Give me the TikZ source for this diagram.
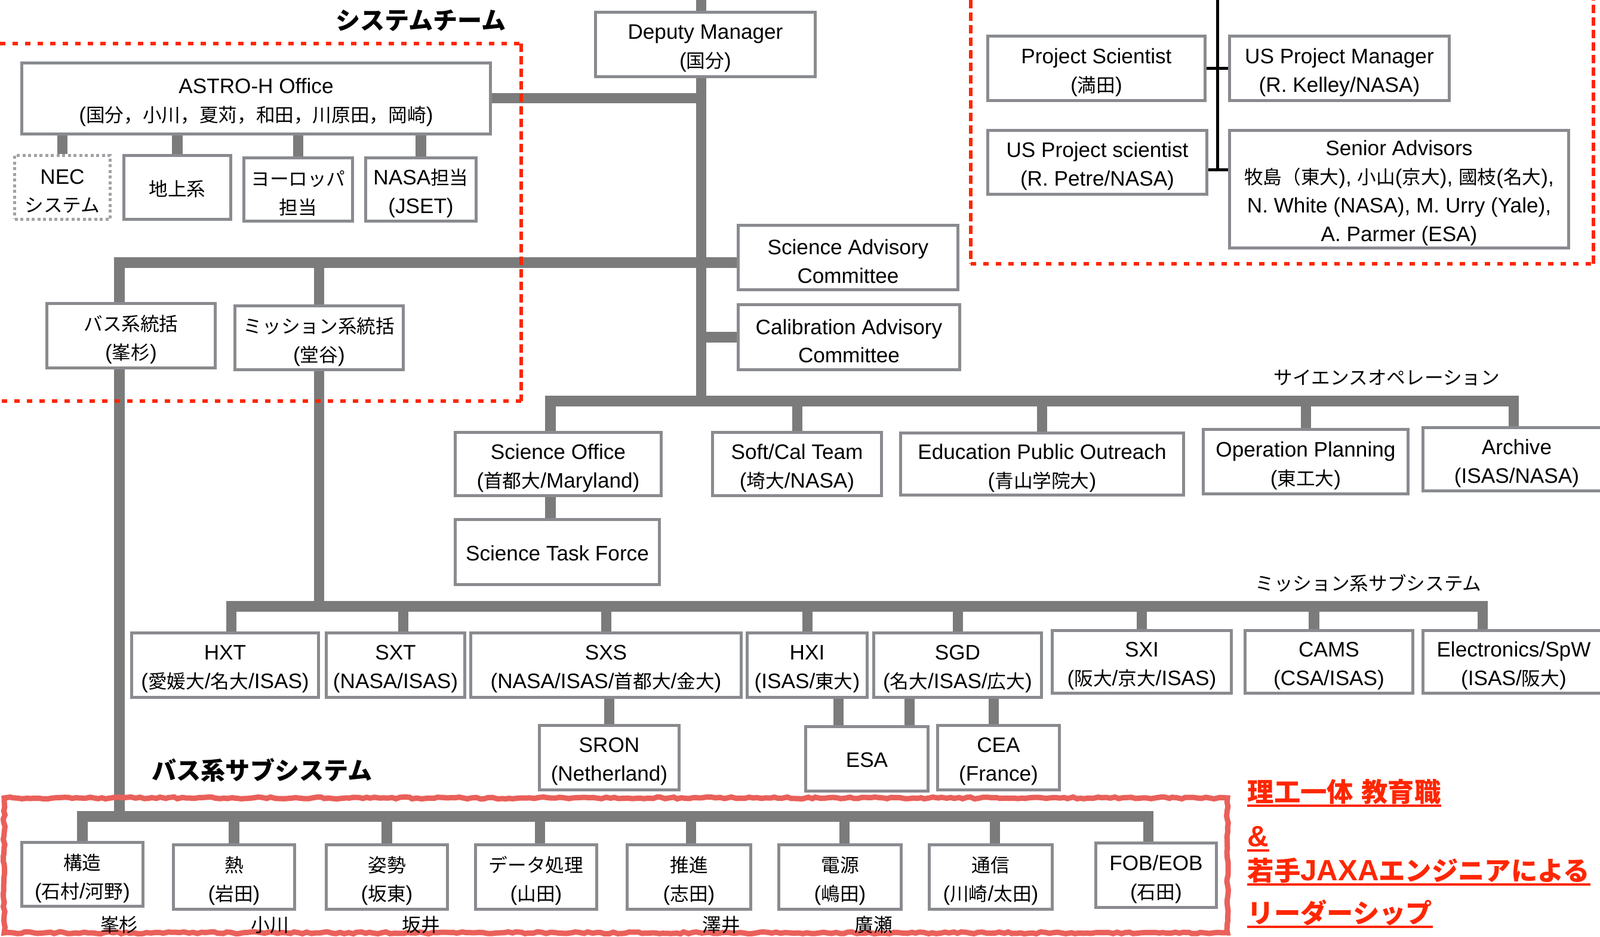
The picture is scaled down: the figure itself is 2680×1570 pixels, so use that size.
\documentclass[tikz,border=0pt]{standalone}
\usepackage{fontspec}
\setmainfont{Liberation Sans}
\newfontfamily\cjkfam{Noto Sans CJK JP}[Scale=0.9]
\usetikzlibrary{backgrounds,decorations.pathmorphing}
\newcount\cjkcnt
\newXeTeXintercharclass\cjkcls
\cjkcnt="3000
\loop\ifnum\cjkcnt<"A000 \XeTeXcharclass\cjkcnt=\cjkcls\relax \advance\cjkcnt by 1 \repeat
\cjkcnt="FF00
\loop\ifnum\cjkcnt<"FFF0 \XeTeXcharclass\cjkcnt=\cjkcls\relax \advance\cjkcnt by 1 \repeat
\XeTeXinterchartoks 0 \cjkcls = {\cjkfam}
\XeTeXinterchartoks 4095 \cjkcls = {\cjkfam}
\XeTeXinterchartoks \cjkcls 0 = {\rmfamily}
\XeTeXinterchartoks \cjkcls 4095 = {\rmfamily}
\XeTeXinterchartokenstate=1

\definecolor{boxgray}{RGB}{137,139,143}
\definecolor{conngray}{RGB}{123,123,123}
\definecolor{redd}{RGB}{255,38,0}
\definecolor{roughred}{RGB}{234,96,90}
\tikzset{
 box/.style={draw=boxgray, line width=0.05cm, fill=white, inner sep=0pt},
 btxt/.style={align=center, inner sep=0pt, font=\fontsize{10pt}{13.6pt}\selectfont, text=black},
 necbox/.style={draw=boxgray!80, dash pattern=on 0.05cm off 0.045cm},
 conn/.style={draw=conngray, line width=0.17cm},
 blk/.style={draw=black, line width=0.05cm},
 reddot/.style={draw=redd, line width=0.055cm, dash pattern=on 0.09cm off 0.12cm},
 reddash/.style={draw=redd, line width=0.055cm, dash pattern=on 0.14cm off 0.07cm},
 roughbox/.style={draw=roughred, line width=0.09cm, decorate, decoration={random steps, segment length=2pt, amplitude=0.45pt}},
 ttl/.style={font=\fontsize{13pt}{15pt}\selectfont\bfseries, inner sep=0pt},
 lbl/.style={font=\fontsize{10pt}{13.6pt}\selectfont, inner sep=0pt},
 redt/.style={font=\fontsize{14pt}{16pt}\selectfont\bfseries, text=redd, inner sep=0pt, anchor=base west},
 redline/.style={draw=redd, line width=0.045cm},
}
\newcommand\bxg[8]{\node[box,#1,minimum width={(#5-#3)*0.01cm-0.05cm},minimum height={(#6-#4)*0.01cm-0.05cm}] (#2) at ({(#3+#5)/2},{(#4+#6)/2}) {};
\node[btxt] (#2-t) at ([yshift=#8]#2.center) {#7};}
\newcommand\bx[7][]{\bxg{#1}{#2}{#3}{#4}{#5}{#6}{#7}{-0.065cm}}
\newcommand\bxs[7][]{\bxg{#1}{#2}{#3}{#4}{#5}{#6}{#7}{-0.02cm}}

\begin{document}
\begin{tikzpicture}[x=0.01cm,y=-0.01cm]
\useasboundingbox (0,0) rectangle (2680,1570);
\clip (0,0) rectangle (2680,1570);

% titles and labels
\node[ttl] (t1) at (705,34) {システムチーム};
\node[ttl] (t2) at (439,1290) {バス系サブシステム};
\node[lbl] (t3) at (2323,633) {サイエンスオペレーション};
\node[lbl] (t4) at (2292,977) {ミッション系サブシステム};

% system team
\bx{dep}{995}{18}{1368}{131}{Deputy Manager\\(国分)}
\bx{astro}{34}{103}{824}{227}{ASTRO-H Office\\(国分，小川，夏苅，和田，川原田，岡崎)}
\bx[necbox]{nec}{22}{258}{187}{370}{NEC\\システム}
\bxs{chijo}{205}{258}{389}{370}{地上系}
\bx{euro}{406}{262}{593}{373}{ヨーロッパ\\担当}
\bx{nasa}{610}{262}{800}{373}{NASA担当\\(JSET)}
\bx{sac}{1234}{375}{1607}{488}{Science Advisory\\Committee}
\bx{cac}{1234}{508}{1610}{622}{Calibration Advisory\\Committee}
\bx{bus}{76}{506}{363}{619}{バス系統括\\(峯杉)}
\bx{mis}{391}{510}{678}{622}{ミッション系統括\\(堂谷)}

% right top
\bx{ps}{1652}{58}{2021}{171}{Project Scientist\\(満田)}
\bx{uspm}{2057}{58}{2430}{171}{US Project Manager\\(R. Kelley/NASA)}
\bx{usps}{1652}{216}{2024}{328}{US Project scientist\\(R. Petre/NASA)}
\bx{sa}{2057}{216}{2630}{418}{Senior Advisors\\牧島（東大), 小山(京大), 國枝(名大),\\N. White (NASA), M. Urry (Yale),\\A. Parmer (ESA)}

% science operation
\bx{so}{760}{722}{1110}{833}{Science Office\\(首都大/Maryland)}
\bxs{stf}{760}{868}{1107}{982}{Science Task Force}
\bx{sct}{1191}{722}{1479}{833}{Soft/Cal Team\\(埼大/NASA)}
\bx{epo}{1506}{723}{1985}{832}{Education Public Outreach\\(青山学院大)}
\bx{op}{2013}{717}{2361}{830}{Operation Planning\\(東工大)}
\bx{arc}{2381}{714}{2700}{825}{Archive\\(ISAS/NASA)}

% mission subsystems
\bx{hxt}{218}{1058}{536}{1171}{HXT\\(愛媛大/名大/ISAS)}
\bx{sxt}{544}{1058}{781}{1171}{SXT\\(NASA/ISAS)}
\bx{sxs}{786}{1058}{1244}{1171}{SXS\\(NASA/ISAS/首都大/金大)}
\bx{hxi}{1249}{1058}{1455}{1171}{HXI\\(ISAS/東大)}
\bx{sgd}{1461}{1058}{1747}{1171}{SGD\\(名大/ISAS/広大)}
\bx{sxi}{1760}{1054}{2065}{1164}{SXI\\(阪大/京大/ISAS)}
\bx{cams}{2083}{1054}{2369}{1164}{CAMS\\(CSA/ISAS)}
\bx{elec}{2381}{1054}{2690}{1164}{Electronics/SpW\\(ISAS/阪大)}
\bx{sron}{901}{1213}{1140}{1326}{SRON\\(Netherland)}
\bxs{esa}{1347}{1215}{1557}{1328}{ESA}
\bx{cea}{1568}{1213}{1777}{1326}{CEA\\(France)}

% bus subsystems
\draw[roughbox] (7,1337) rectangle (2056,1563);
\bx{kozo}{34}{1409}{242}{1521}{構造\\(石村/河野)}
\bx{netsu}{288}{1413}{496}{1526}{熱\\(岩田)}
\bx{shisei}{544}{1413}{752}{1526}{姿勢\\(坂東)}
\bx{data}{794}{1413}{1002}{1526}{データ処理\\(山田)}
\bx{suishin}{1048}{1413}{1260}{1526}{推進\\(志田)}
\bx{dengen}{1302}{1413}{1512}{1526}{電源\\(嶋田)}
\bx{tsushin}{1554}{1413}{1765}{1526}{通信\\(川崎/太田)}
\bx{fob}{1833}{1410}{2040}{1523}{FOB/EOB\\(石田)}
\node[lbl] (n1) at (200,1550) {峯杉};
\node[lbl] (n2) at (452,1550) {小川};
\node[lbl] (n3) at (705,1550) {坂井};
\node[lbl] (n4) at (1208,1550) {澤井};
\node[lbl] (n5) at (1463,1550) {廣瀬};

% red remarks
\node[redt] (r1) at (2089,1343) {理工一体 教育職};
\node[redt] (r2) at (2089,1418) {\&};
\node[redt] (r3) at (2089,1475) {若手JAXAエンジニアによる};
\node[redt] (r4) at (2089,1546) {リーダーシップ};
\foreach \r in {r1,r2,r3,r4}
  \draw[redline] ([yshift=-0.07cm]\r.base west) -- ([yshift=-0.07cm]\r.base east);

% coordinates for bars
\coordinate (top) at (1174,0);
\coordinate (opsbar) at (1174,672);
\coordinate (busx) at (200,440);
\coordinate (busbar) at (200,1368);
\coordinate (mbar) at (536,1016);
\coordinate (btop) at (2039,0);
\coordinate (bbot) at (2039,285);

\begin{scope}[on background layer]
 % trunk
 \draw[conn] (top) -- (opsbar);
 \draw[conn] (astro.east) -- (astro.east -| top);
 \foreach \n in {nec,chijo,euro,nasa}
   \draw[conn] (astro.south -| \n.north) -- (\n.north);
 % advisory
 \draw[conn] (sac.west |- busx) -- (busx) -- (busx |- bus.north);
 \draw[conn] (mis.north |- busx) -- (mis.north);
 \draw[conn] (cac.west) -- (cac.west -| top);
 % science operation
 \draw[conn] ([xshift=-0.13cm]so.north) -- ([xshift=-0.13cm]so.north |- opsbar) -- ([xshift=-0.05cm]arc.north |- opsbar) -- ([xshift=-0.05cm]arc.north);
 \foreach \n in {sct,epo,op}
   \draw[conn] (\n.north |- opsbar) -- (\n.north);
 \draw[conn] ([xshift=-0.13cm]so.south) -- ([xshift=-0.13cm]so.south |- stf.north);
 % mission
 \draw[conn] (mis.south) -- (mis.south |- mbar);
 \draw[conn] ([xshift=0.10cm]hxt.north) -- ([xshift=0.10cm]hxt.north |- mbar) -- ([xshift=-0.515cm]elec.north |- mbar) -- ([xshift=-0.515cm]elec.north);
 \draw[conn] ([xshift=0.125cm]sxt.north |- mbar) -- ([xshift=0.125cm]sxt.north);
 \draw[conn] ([xshift=-0.25cm]cams.north |- mbar) -- ([xshift=-0.25cm]cams.north);
 \foreach \n in {sxs,hxi,sgd,sxi}
   \draw[conn] (\n.north |- mbar) -- (\n.north);
 \draw[conn] (sxs.south -| sron.north) -- (sron.north);
 \draw[conn] ([xshift=-0.47cm]esa.north) -- ([xshift=-0.47cm]esa.north |- hxi.south);
 \draw[conn] ([xshift=0.71cm]esa.north) -- ([xshift=0.71cm]esa.north |- sgd.south);
 \draw[conn] ([xshift=-0.08cm]cea.north) -- ([xshift=-0.08cm]cea.north |- sgd.south);
 % bus
 \draw[conn] (busx |- bus.south) -- (busbar);
 \draw[conn] (kozo.north) -- (kozo.north |- busbar) -- ([xshift=-0.13cm]fob.north |- busbar) -- ([xshift=-0.13cm]fob.north);
 \draw[conn] (netsu.north |- busbar) -- (netsu.north);
 \draw[conn] (shisei.north |- busbar) -- (shisei.north);
 \draw[conn] ([xshift=0.06cm]data.north |- busbar) -- ([xshift=0.06cm]data.north);
 \draw[conn] ([xshift=0.03cm]suishin.north |- busbar) -- ([xshift=0.03cm]suishin.north);
 \draw[conn] ([xshift=0.07cm]dengen.north |- busbar) -- ([xshift=0.07cm]dengen.north);
 \draw[conn] ([xshift=0.07cm]tsushin.north |- busbar) -- ([xshift=0.07cm]tsushin.north);
 % black connector on the right
 \draw[blk] (btop) -- (bbot);
 \draw[blk] (ps.east) -- (uspm.west);
 \draw[blk] (usps.east |- bbot) -- (sa.west |- bbot);
\end{scope}

% red dotted team outlines
\draw[reddot] (0,73) -- (873,73);
\draw[reddash] (873,73) -- (873,672);
\draw[reddot] (873,672) -- (0,672);
\draw[reddash] (1626,0) -- (1626,442);
\draw[reddot] (1626,442) -- (2669,442);
\draw[reddash] (2669,442) -- (2669,0);
\end{tikzpicture}
\end{document}
